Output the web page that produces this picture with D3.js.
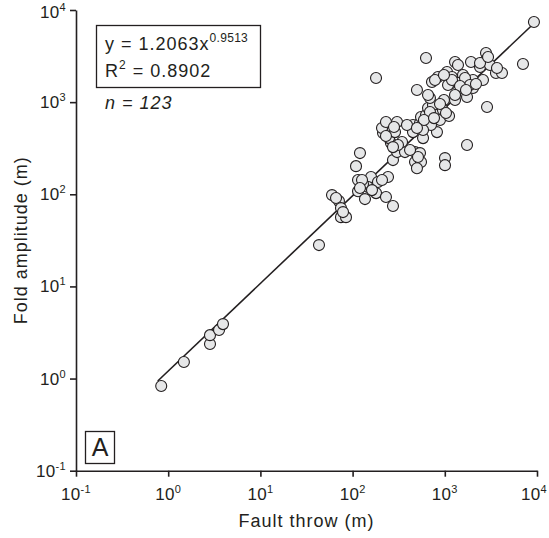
<!DOCTYPE html>
<html><head><meta charset="utf-8">
<script src="https://cdn.jsdelivr.net/npm/d3@7"></script>
<style>body{margin:0;background:#fff}svg{display:block}text{font-family:"Liberation Sans",Arial,sans-serif;fill:#231f20}</style>
</head><body><svg id="c" width="549" height="538"></svg>
<script>
// Fault throw (m)
const throwM = [0.84,1.48,2.84,2.84,3.56,3.93,43.2,59.8,71.1,74.8,74.8,84.8,114.5,114.5,136.2,158.5,146.9,179.5,188.4,242.1,230.1,274.2,129.7,108.9,120.2,274.2,303.4,369.8,475.3,538.3,475.3,552.1,498.9,1005,1005,1742,343.6,260.6,248.3,288.4,213.8,208.4,230.1,303.4,451.9,451.9,580.8,538.3,552.1,822.2,625.2,822.2,887.1,1112,955,657.7,744.7,690.2,979.5,1291,1742,498.9,2871,707.9,389.0,580.8,179.5,625.2,1291,1923,2799,2799,2410,3090,3589,4169,7047,9268,843.3,1057,1197,726.1,1138,1574,1742,2023,2594,1538,2023,1390,1084,1197,1656,1875,2410,2944,1390,783.4,979.5,1462,2178,887.1,1030,690.2,594.3,763.8,498.9,281.2,230.1,310.5,274.2,511.7,419.8,126.5,162.3,208.4,120.2,78.7,66.1,1698,3681,1291,657.7];
// Fold amplitude (m)
const ampM = [0.83,1.51,2.37,2.96,3.36,3.90,28.1,98,84.3,70.8,56.5,56.5,143,108,88.7,154,120,103,136,154,93.3,74.5,129,202,280,235,287,287,287,280,224,224,192,247,207,342,369,360,407,473,462,524,608,608,564,473,407,593,689,473,724,724,640,706,820,863,931,1109,1054,1054,1135,1352,885,564,564,498,1828,3013,2723,2723,3412,2864,2404,2529,2070,2070,2594,7413,1875,2123,1875,1652,1574,1968,1652,1738,1738,1422,1422,1611,1535,1738,1828,1535,2661,3090,2529,1738,1968,1496,1574,953,762,781,640,671,524,537,429,342,325,254,302,143,111,143,117,64.1,91.0,1352,2344,1194,1194];
const tickVals = [0.1,1,10,100,1000,10000];
const tickExp = ["-1","0","1","2","3","4"];
const fitA = 1.2063, fitB = 0.9513, r2 = "0.8902", nCount = 123;
const fitRange = [0.77, 9300];

const svg = d3.select("#c");
const L = 76, R = 537, T = 10, B = 470.7;
const x = d3.scaleLog().domain([0.1,10000]).range([L,R]);
const y = d3.scaleLog().domain([0.1,10000]).range([B,T]);
const FS = 18, SUP = 12, LS = 1, TFS = 17, TSUP = 11;

// fit line
const lineData = fitRange.map(v => [v, fitA*Math.pow(v,fitB)]);
svg.append("path").attr("d", d3.line().x(d=>x(d[0])).y(d=>y(d[1]))(lineData))
  .attr("stroke","#231f20").attr("stroke-width",1.6).attr("fill","none");

// points
svg.append("g").selectAll("circle").data(throwM.map((v,i)=>[v,ampM[i]])).join("circle")
  .attr("cx",d=>x(d[0])).attr("cy",d=>y(d[1])).attr("r",5.5)
  .attr("fill","#e6e7e8").attr("stroke","#231f20").attr("stroke-width",1.1);

// axes
const gx = svg.append("g").attr("transform",`translate(0,${B})`)
  .call(d3.axisBottom(x).tickValues(tickVals).tickFormat("").tickSize(6).tickSizeOuter(0));
const gy = svg.append("g").attr("transform",`translate(${L},0)`)
  .call(d3.axisLeft(y).tickValues(tickVals).tickFormat("").tickSize(6).tickSizeOuter(0));
[gx,gy].forEach(g=>{g.select(".domain").attr("stroke","#231f20").attr("stroke-width",1.6);
  g.selectAll(".tick line").attr("stroke","#231f20").attr("stroke-width",1.6);});

tickVals.forEach((v,i)=>{
  const last = i === tickVals.length-1;
  const t = svg.append("text").attr("x",x(v) - (last ? 3 : 0)).attr("y",B+29).attr("text-anchor","middle").attr("font-size",TFS).attr("letter-spacing",0.3);
  t.append("tspan").text("10");
  t.append("tspan").attr("dy",-7).attr("font-size",TSUP).text(tickExp[i]);
  const t2 = svg.append("text").attr("x",L-10).attr("y",y(v)+6 + (last ? 2 : 0)).attr("text-anchor","end").attr("font-size",TFS).attr("letter-spacing",0.3);
  t2.append("tspan").text("10");
  t2.append("tspan").attr("dy",-7).attr("font-size",TSUP).text(tickExp[i]);
});

svg.append("text").attr("x",(L+R)/2).attr("y",527).attr("text-anchor","middle").attr("font-size",FS).attr("letter-spacing",LS).text("Fault throw (m)");
svg.append("text").attr("transform",`translate(27,${(T+B)/2}) rotate(-90)`).attr("text-anchor","middle").attr("font-size",FS).attr("letter-spacing",LS).text("Fold amplitude (m)");

// equation box
svg.append("rect").attr("x",96.5).attr("y",25.5).attr("width",164).attr("height",62).attr("fill","#fff").attr("stroke","#231f20").attr("stroke-width",1.3);
const eq = svg.append("text").attr("x",105).attr("y",50).attr("font-size",FS).attr("letter-spacing",LS);
eq.append("tspan").text(`y = ${fitA.toFixed(4)}x`);
eq.append("tspan").attr("dy",-8).attr("font-size",SUP).attr("letter-spacing",0.3).text(fitB.toFixed(4));
const rr = svg.append("text").attr("x",105).attr("y",77).attr("font-size",FS).attr("letter-spacing",LS);
rr.append("tspan").text("R");
rr.append("tspan").attr("dy",-8).attr("font-size",SUP).text("2");
rr.append("tspan").attr("dy",8).text(` = ${r2}`);
const nt = svg.append("text").attr("x",105).attr("y",109).attr("font-size",FS).attr("letter-spacing",LS).attr("font-style","italic");
nt.text(`n = ${nCount}`);

// panel label
svg.append("rect").attr("x",85.5).attr("y",431.5).attr("width",29).attr("height",32).attr("fill","#fff").attr("stroke","#231f20").attr("stroke-width",1.3);
svg.append("text").attr("x",100).attr("y",456).attr("text-anchor","middle").attr("font-size",25).text("A");
</script></body></html>
